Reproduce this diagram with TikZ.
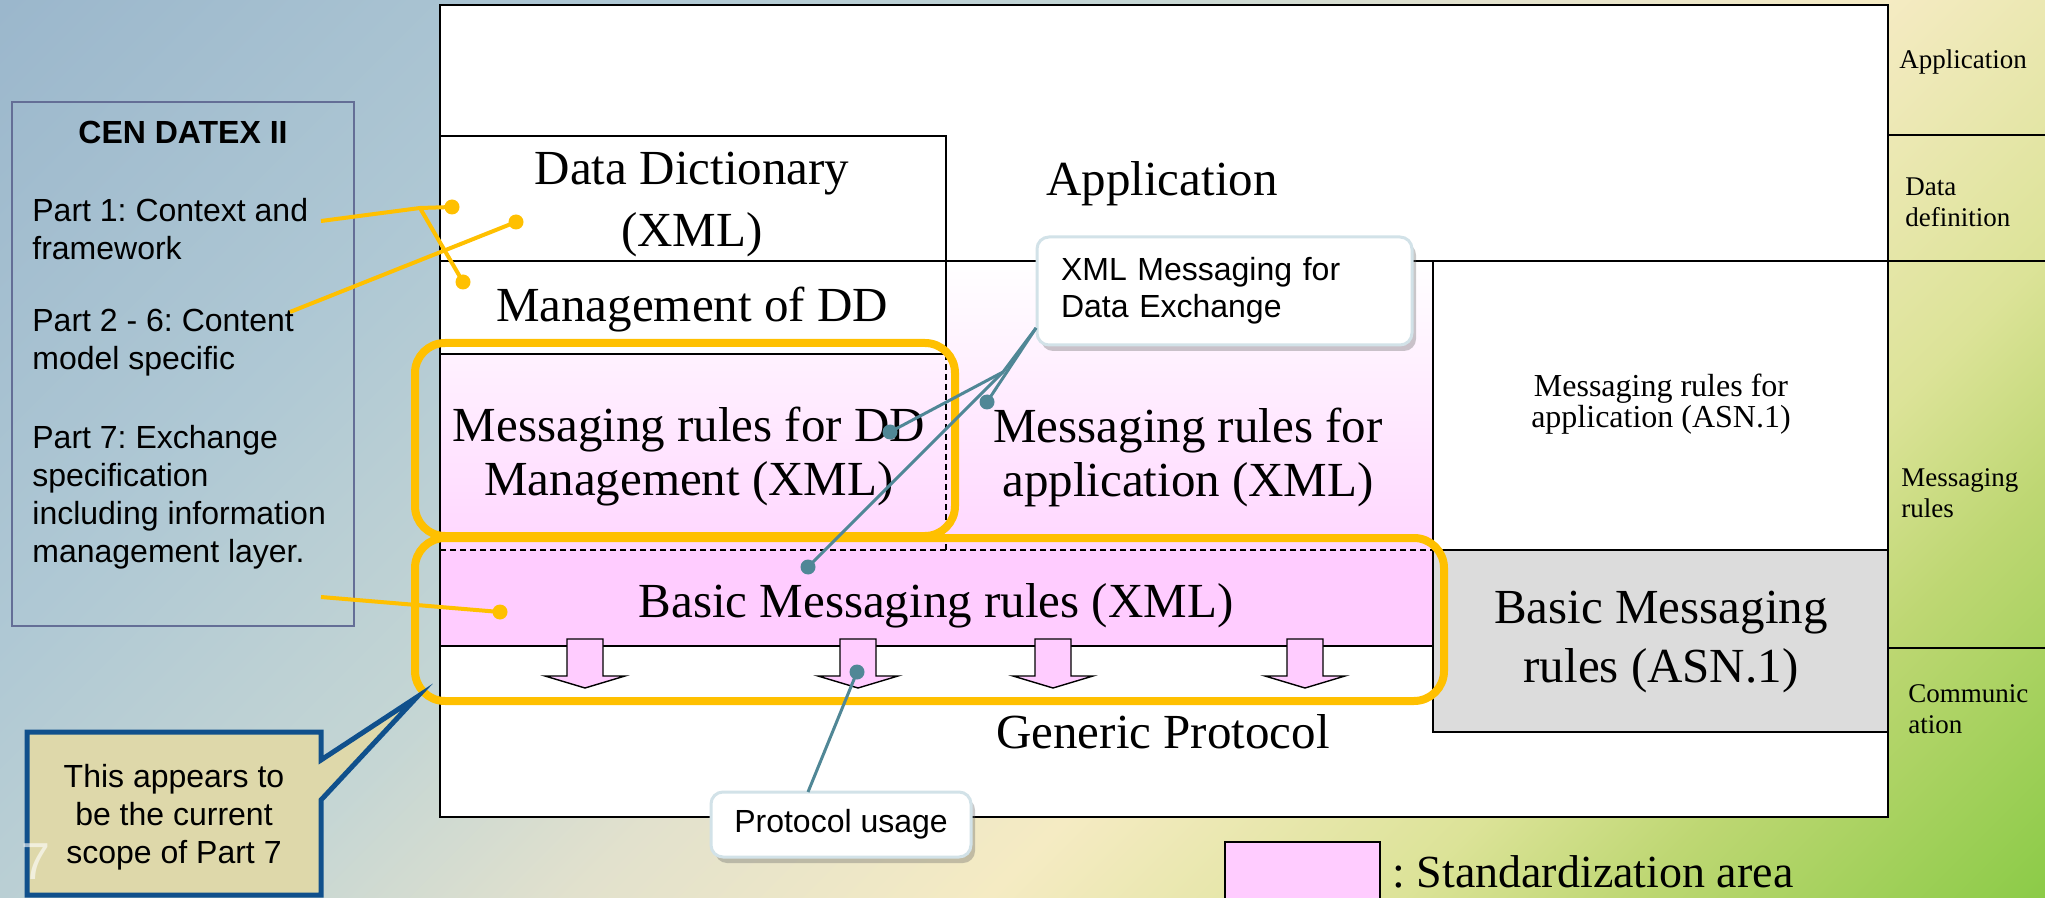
\documentclass[tikz,border=0pt]{standalone}
\usepackage{fontspec}
\setmainfont{Liberation Serif}
\newfontfamily\arial{Liberation Sans}
\usetikzlibrary{shadows}
\frenchspacing

\definecolor{bgA}{RGB}{155,183,204}
\definecolor{bgA2}{RGB}{175,200,212}
\definecolor{bgB}{RGB}{197,214,212}
\definecolor{bgC}{RGB}{226,225,205}
\definecolor{bgD}{RGB}{245,235,195}
\definecolor{bgE}{RGB}{220,227,152}
\definecolor{bgE2}{RGB}{190,215,115}
\definecolor{bgF}{RGB}{140,203,72}
\definecolor{pinkA}{RGB}{255,204,255}
\definecolor{orangeA}{RGB}{255,192,0}
\definecolor{tealA}{RGB}{80,135,150}
\definecolor{grayA}{RGB}{220,220,220}
\definecolor{calloutborder}{RGB}{210,226,232}
\definecolor{khaki}{RGB}{222,216,170}
\definecolor{navyA}{RGB}{16,80,140}
\definecolor{panelborder}{RGB}{100,110,150}

\pgfdeclarehorizontalshading{bgshade}{100bp}{color(0bp)=(bgA); color(14.6bp)=(bgA); color(30bp)=(bgA2); color(42bp)=(bgB); color(50bp)=(bgC); color(60bp)=(bgD); color(70bp)=(bgE); color(75.5bp)=(bgE2); color(85.4bp)=(bgF); color(100bp)=(bgF)}

\begin{document}
\begin{tikzpicture}[x=0.5pt,y=-0.5pt,
  mainline/.style={draw=black, line width=1pt},
  thinline/.style={draw=black, line width=0.8pt},
  dashline/.style={draw=black, line width=0.6pt, dash pattern=on 3pt off 2pt},
  blockarrow/.style={fill=pinkA, draw=black, line width=0.7pt, line join=miter},
  orangebox/.style={draw=orangeA, line width=4pt, rounded corners=15pt},
  bigtxt/.style={font=\fontsize{24.5}{31}\selectfont, align=center, inner sep=0pt},
  midtxt/.style={font=\fontsize{24.5}{27}\selectfont, align=center, inner sep=0pt},
  smalltxt/.style={font=\fontsize{16}{14.5}\selectfont, align=center, inner sep=0pt},
  sidetxt/.style={font=\fontsize{13.5}{15.5}\selectfont, align=left, anchor=west, inner sep=0pt},
  parttxt/.style={font=\arial\fontsize{16}{19}\selectfont, align=left, anchor=west, inner sep=0pt},
  odot/.style={circle, fill=orangeA, inner sep=0pt, minimum size=7.5pt},
  tdot/.style={circle, fill=tealA, inner sep=0pt, minimum size=7.5pt},
  oline/.style={draw=orangeA, line width=2pt},
  tline/.style={draw=tealA, line width=1.5pt},
  callout/.style={draw=calloutborder, line width=1.5pt, fill=white, rounded corners=6pt,
    drop shadow={shadow xshift=2pt, shadow yshift=-3pt, opacity=0.35, fill=black!60},
    font=\arial\fontsize{16}{18.5}\selectfont},
  scopebox/.style={draw=navyA, fill=khaki, line width=2.5pt, line join=miter}
]
\useasboundingbox (0,0) rectangle (2045,898);
\shade[shading=bgshade, shading angle=-45] (0,0) rectangle (2045,898);

% ---------- main layered box ----------
\fill[white] (440,5) rectangle (1888,817);
\shade[top color=white, bottom color=pinkA!80!white] (440,261) rectangle (1433,550);
\fill[white] (440,261) rectangle (946,354);
\fill[pinkA] (440,550) rectangle (1433,646);
\fill[grayA] (1433,550) rectangle (1888,732);

\draw[thinline] (440,136) -- (946,136) -- (946,354);
\draw[thinline] (440,261) -- (2045,261);
\draw[thinline] (440,354) -- (946,354);
\draw[dashline] (946,354) -- (946,550);
\draw[dashline] (440,550) -- (1433,550);
\draw[thinline] (440,646) -- (1433,646);
\draw[thinline] (1433,261) -- (1433,732) -- (1888,732);
\draw[mainline] (1433,550) -- (1888,550);
\draw[mainline] (440,5) rectangle (1888,817);
\draw[thinline] (1888,135) -- (2045,135);
\draw[thinline] (1888,648) -- (2045,648);

% block arrows
\foreach \ax in {585,858,1053,1305}
  \draw[blockarrow] (\ax-18,639) -- (\ax+18,639) -- (\ax+18,676) -- (\ax+40,676)
    -- (\ax,688) -- (\ax-40,676) -- (\ax-18,676) -- cycle;

% texts in the main box
\node[bigtxt] (dd) at (692,204) {Data Dictionary\\(XML)};
\node[bigtxt] (mgmt) at (692,310) {Management of DD};
\node[bigtxt] (app) at (1162,184) {Application};
\node[midtxt] (mrdd) at (689,457) {Messaging rules for DD\\Management (XML)};
\node[midtxt] (mrapp) at (1188,457) {Messaging rules for\\application (XML)};
\node[bigtxt] (bmxml) at (936,606) {Basic Messaging rules (XML)};
\node[bigtxt] (gp) at (1163,732) {Generic Protocol};
\node[smalltxt] (mrasn) at (1661,404) {Messaging rules for\\application (ASN.1)};
\node[font=\fontsize{24.5}{29.5}\selectfont, align=center, inner sep=0pt] (bmasn) at (1661,642) {Basic Messaging\\rules (ASN.1)};

% right column labels
\node[sidetxt] (lapp) at (1899,62) {Application};
\node[sidetxt] (ldata) at (1905,202) {Data\\definition};
\node[sidetxt] (lmsg) at (1901,493) {Messaging\\rules};
\node[sidetxt] (lcom) at (1908,709) {Communic\\ation};

% orange scope frames
\draw[orangebox] (415,343) rectangle (955,536);
\draw[orangebox] (415,538) rectangle (1444,701);

% ---------- left panel ----------
\draw[panelborder, line width=0.6pt] (12,102) rectangle (354,626);
\node[font=\arial\bfseries\fontsize{16}{19}\selectfont, inner sep=0pt] (cen) at (183,132) {CEN DATEX II};
\node[parttxt] (p1) at (32,229) {Part 1: Context and\\framework};
\node[parttxt] (p2) at (32,343) {Part 2 - 6: Content\\model specific};
\node[parttxt] (p7) at (32,497) {Part 7: Exchange\\specification\\including information\\management layer.};

% orange connectors
\node[odot] (od1) at (452,207) {};
\node[odot] (od2) at (516,222) {};
\node[odot] (od3) at (463,282) {};
\node[odot] (od4) at (500,612) {};
\coordinate (p1end) at (321,221);
\coordinate (ojunc) at (420,208);
\coordinate (p2end) at (290,312);
\coordinate (p7end) at (321,597);
\draw[oline] (p1end) -- (ojunc) -- (od1.center);
\draw[oline] (ojunc) -- (od3.center);
\draw[oline] (p2end) -- (od2.center);
\draw[oline] (p7end) -- (od4.center);

% ---------- teal callouts ----------
\node[callout, minimum width=187.5pt, minimum height=54pt, text width=163.5pt, inner xsep=12pt, align=left] (xmlc) at (1224.5,291) {XML Messaging for\\Data Exchange};
\node[tdot] (td1) at (890,432) {};
\node[tdot] (td2) at (987,402) {};
\node[tdot] (td3) at (808,567) {};
\coordinate (xmlfoot) at (1036,328);
\coordinate (tjunc) at (1003,372);
\draw[tline] (xmlfoot) -- (tjunc) -- (td1.center);
\draw[tline] (tjunc) -- (td3.center);
\draw[tline] (xmlfoot) -- (td2.center);

\node[callout, minimum width=130pt, minimum height=32.5pt, align=center] (pu) at (841,824.5) {Protocol usage};
\node[tdot] (td4) at (857,672) {};
\coordinate (pufoot) at (808,792);
\draw[tline] (td4.center) -- (pufoot);

% ---------- scope callout ----------
\draw[scopebox] (27,732) -- (321,732) -- (321,760) -- (417,697) -- (321,800) -- (321,895) -- (27,895) -- cycle;
\node[font=\arial\fontsize{16}{19}\selectfont, align=center, inner sep=0pt] (scopetxt) at (174,817) {This appears to\\be the current\\scope of Part 7};
\node[font=\arial\fontsize{26}{26}\selectfont, text=white, opacity=0.6, inner sep=0pt] (slideno) at (36,862) {7};

% ---------- legend ----------
\node[draw=black, line width=0.8pt, fill=pinkA, anchor=north west, minimum width=77.5pt, minimum height=32pt, inner sep=0pt] (legend) at (1224,841) {};
\node[font=\fontsize{23}{27}\selectfont, anchor=west, inner sep=0pt] (legendtxt) at (1392,872) {: Standardization area};
\end{tikzpicture}
\end{document}
